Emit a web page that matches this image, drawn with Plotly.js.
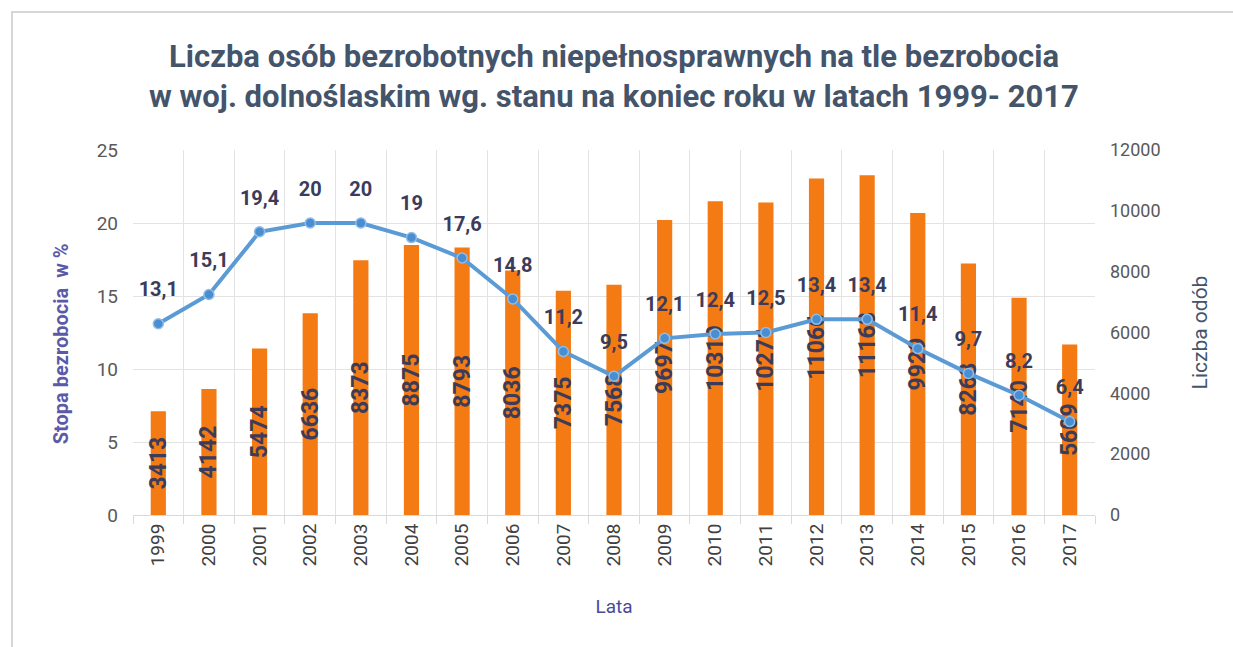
<!DOCTYPE html>
<html><head><meta charset="utf-8">
<script src="https://cdn.plot.ly/plotly-3.0.1.min.js"></script>
<style>html,body{margin:0;padding:0;background:#fff}</style>
</head><body>
<div id="chart" style="width:1233px;height:647px"></div>
<script>
const years = ['1999','2000','2001','2002','2003','2004','2005','2006','2007','2008','2009','2010','2011','2012','2013','2014','2015','2016','2017'];
const disabledUnemployed = [3413,4142,5474,6636,8373,8875,8793,8036,7375,7568,9697,10319,10271,11066,11168,9929,8268,7140,5609];
const unemploymentRate = [13.1,15.1,19.4,20,20,19,17.6,14.8,11.2,9.5,12.1,12.4,12.5,13.4,13.4,11.4,9.7,8.2,6.4];
const leftTicks = [0,5,10,15,20,25];
const rightTicks = [0,2000,4000,6000,8000,10000,12000];

const FONT = 'Roboto, "Noto Sans", sans-serif';
const fmt = v => String(v).replace('.', ',');

const bars = {
  type: 'bar', x: years, y: disabledUnemployed, yaxis: 'y',
  width: 0.3,
  marker: {color: '#f47a14'},
  text: disabledUnemployed.map(String),
  textposition: 'inside', insidetextanchor: 'middle', textangle: -90,
  constraintext: 'none',
  textfont: {family: FONT, size: 23, color: '#3c3c5a', weight: 'bold'},
  hoverinfo: 'x+y', showlegend: false
};
const line = {
  type: 'scatter', mode: 'lines+markers', x: years, y: unemploymentRate, yaxis: 'y2',
  line: {color: '#5b9bd5', width: 4},
  marker: {color: '#4a8ed2', size: 10, line: {color: '#8fbde8', width: 1.5}},
  showlegend: false
};
const lineLabels = {
  type: 'scatter', mode: 'markers+text', x: years, y: unemploymentRate, yaxis: 'y2',
  text: unemploymentRate.map(fmt), textposition: 'top center',
  textfont: {family: FONT, size: 20, color: '#3c3c5a', weight: 'bold'},
  marker: {size: 34, opacity: 0, color: '#ffffff'},
  hoverinfo: 'skip', showlegend: false
};

const layout = {
  width: 1233, height: 647,
  margin: {l: 133, r: 138, t: 150, b: 132},
  paper_bgcolor: '#ffffff', plot_bgcolor: '#ffffff',
  font: {family: FONT},
  title: {
    text: 'Liczba osób bezrobotnych niepełnosprawnych na tle bezrobocia<br>w woj. dolnoślaskim wg. stanu na koniec roku w latach 1999- 2017',
    font: {family: FONT, size: 31, color: '#44546a', weight: 'bold'},
    x: 0.5, xanchor: 'center', xref: 'paper', yref: 'container', y: 1 - 67/647, yanchor: 'middle'
  },
  xaxis: {
    type: 'category', tickson: 'boundaries', showgrid: true, gridcolor: '#e3e3e3', gridwidth: 1,
    ticks: 'outside', ticklen: 8, tickcolor: '#d9d9d9',
    showline: true, linecolor: '#d9d9d9', linewidth: 1,
    tickangle: -90, tickfont: {family: FONT, size: 19, color: '#404040'},
    title: {text: 'Lata', font: {family: FONT, size: 19, color: '#4a4a9a'}, standoff: 34},
    range: [-0.5, 18.5]
  },
  yaxis: {
    side: 'right', range: [0, 12000], tickvals: rightTicks, ticktext: rightTicks.map(String),
    showgrid: false, zeroline: false, ticklabelstandoff: 14,
    tickfont: {family: FONT, size: 18, color: '#595959'}, ticks: '',
    title: {text: 'Liczba odób', font: {family: FONT, size: 21, color: '#44546a'}, standoff: 32}
  },
  yaxis2: {
    overlaying: 'y', side: 'left', range: [0, 25], tickvals: leftTicks,
    showgrid: true, gridcolor: '#e3e3e3', zeroline: false, ticklabelstandoff: 14,
    tickfont: {family: FONT, size: 19, color: '#595959'}, ticks: ''
  },
  annotations: [{
    text: 'Stopa bezrobocia  w %', xref: 'paper', yref: 'paper',
    x: -0.074, y: 0.47, xanchor: 'center', yanchor: 'middle', textangle: -90, showarrow: false,
    font: {family: FONT, size: 20, color: '#5a5aa8', weight: 'bold'}
  }],
  shapes: [{
    type: 'rect', xref: 'paper', yref: 'paper',
    x0: -0.1258, x1: 1.2, y0: -0.5, y1: 1.378,
    line: {color: '#d6d6d6', width: 2}, fillcolor: 'rgba(0,0,0,0)', layer: 'below'
  }]
};
Plotly.newPlot('chart', [bars, line, lineLabels], layout, {displayModeBar: false});
</script>
</body></html>
